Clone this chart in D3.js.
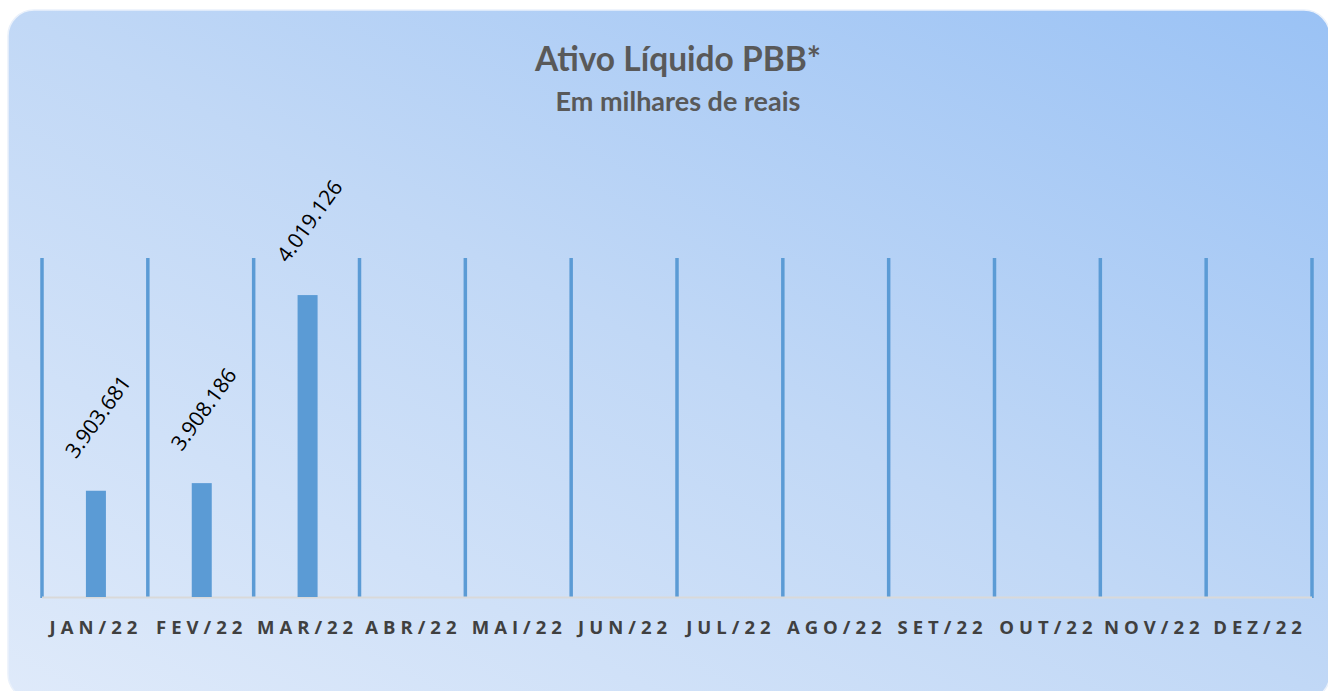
<!DOCTYPE html>
<html lang="pt">
<head>
<meta charset="UTF-8">
<title>Ativo Líquido PBB*</title>
<script src="https://d3js.org/d3.v7.min.js"></script>
<style>
  html, body { margin: 0; padding: 0; background: #ffffff; }
  svg { display: block; }
</style>
</head>
<body>
<div id="chart"></div>
<script>

// Categories and values (em milhares de reais)
const months = ['JAN/22', 'FEV/22', 'MAR/22', 'ABR/22', 'MAI/22', 'JUN/22',
                'JUL/22', 'AGO/22', 'SET/22', 'OUT/22', 'NOV/22', 'DEZ/22'];
const values = [3903681, 3908186, 4019126, null, null, null,
                null, null, null, null, null, null];
const yDomain = [3841000, 4041000];

const width = 1328;
const height = 691;
const margin = {top: 258, right: 16, bottom: 94, left: 42};

const ptBR = d3.formatLocale({decimal: ',', thousands: '.', grouping: [3], currency: ['R$', '']});
const fmt = ptBR.format(',d');

const svg = d3.select('#chart').append('svg')
    .attr('width', width)
    .attr('height', height);

// background gradient
const defs = svg.append('defs');
const grad = defs.append('linearGradient')
    .attr('id', 'bg')
    .attr('x1', 0).attr('y1', 1)
    .attr('x2', 1).attr('y2', 0);
grad.append('stop').attr('offset', '0%').attr('stop-color', '#dfeafa');
grad.append('stop').attr('offset', '50%').attr('stop-color', '#c1d8f6');
grad.append('stop').attr('offset', '100%').attr('stop-color', '#9ac2f5');

svg.append('rect')
    .attr('x', 8).attr('y', 10)
    .attr('width', 1322).attr('height', 690)
    .attr('rx', 26).attr('ry', 26)
    .attr('fill', 'url(#bg)')
    .attr('stroke', '#eaf1fb')
    .attr('stroke-width', 1.5);

// titles
svg.append('text')
    .attr('x', 678).attr('y', 71)
    .attr('text-anchor', 'middle')
    .attr('font-family', 'Lato, "Open Sans", sans-serif')
    .attr('font-weight', 'bold')
    .attr('font-size', 33.5)
    .attr('fill', '#595959')
    .text('Ativo Líquido PBB*');

svg.append('text')
    .attr('x', 678).attr('y', 111)
    .attr('text-anchor', 'middle')
    .attr('font-family', 'Lato, "Open Sans", sans-serif')
    .attr('font-weight', 'bold')
    .attr('font-size', 27)
    .attr('fill', '#595959')
    .text('Em milhares de reais');

// scales
const x = d3.scaleBand()
    .domain(months)
    .range([margin.left, width - margin.right])
    .paddingInner(0)
    .paddingOuter(0);

const y = d3.scaleLinear()
    .domain(yDomain)
    .range([height - margin.bottom, margin.top]);

const baseY = height - margin.bottom;

// vertical gridlines between categories
const bounds = months.map(m => x(m)).concat([x(months[months.length - 1]) + x.bandwidth()]);
svg.append('g')
    .selectAll('line')
    .data(bounds)
    .join('line')
    .attr('x1', d => d).attr('x2', d => d)
    .attr('y1', margin.top).attr('y2', baseY + 1)
    .attr('stroke', '#5b9bd5')
    .attr('stroke-width', 3.5);

// baseline
svg.append('line')
    .attr('x1', margin.left).attr('x2', width - margin.right)
    .attr('y1', baseY + 0.5).attr('y2', baseY + 0.5)
    .attr('stroke', '#d9d9d9')
    .attr('stroke-width', 2);

// bars
const barW = 20;
const data = months.map((m, i) => ({month: m, value: values[i]})).filter(d => d.value != null);

svg.append('g')
    .selectAll('rect')
    .data(data)
    .join('rect')
    .attr('x', d => x(d.month) + x.bandwidth() / 2 - barW / 2 + 1)
    .attr('y', d => y(d.value))
    .attr('width', barW)
    .attr('height', d => baseY - y(d.value))
    .attr('fill', '#5b9bd5');

// rotated value labels
svg.append('g')
    .selectAll('text')
    .data(data)
    .join('text')
    .attr('transform', d => `translate(${x(d.month) + x.bandwidth() / 2 + 3},${y(d.value) - 74}) rotate(-54)`)
    .attr('text-anchor', 'middle')
    .attr('dy', '0.35em')
    .attr('font-family', '"Open Sans", sans-serif')
    .attr('font-size', 21)
    .attr('fill', '#000000')
    .text(d => fmt(d.value));

// category axis
const xAxis = svg.append('g')
    .attr('transform', `translate(0,${baseY})`)
    .call(d3.axisBottom(x).tickSize(0).tickPadding(24));

xAxis.select('.domain').remove();
xAxis.selectAll('text')
    .attr('font-family', '"Open Sans", sans-serif')
    .attr('font-weight', 'bold')
    .attr('font-size', 18.5)
    .attr('letter-spacing', '5px')
    .attr('dx', '1px')
    .attr('fill', '#404040');

</script>
</body>
</html>
